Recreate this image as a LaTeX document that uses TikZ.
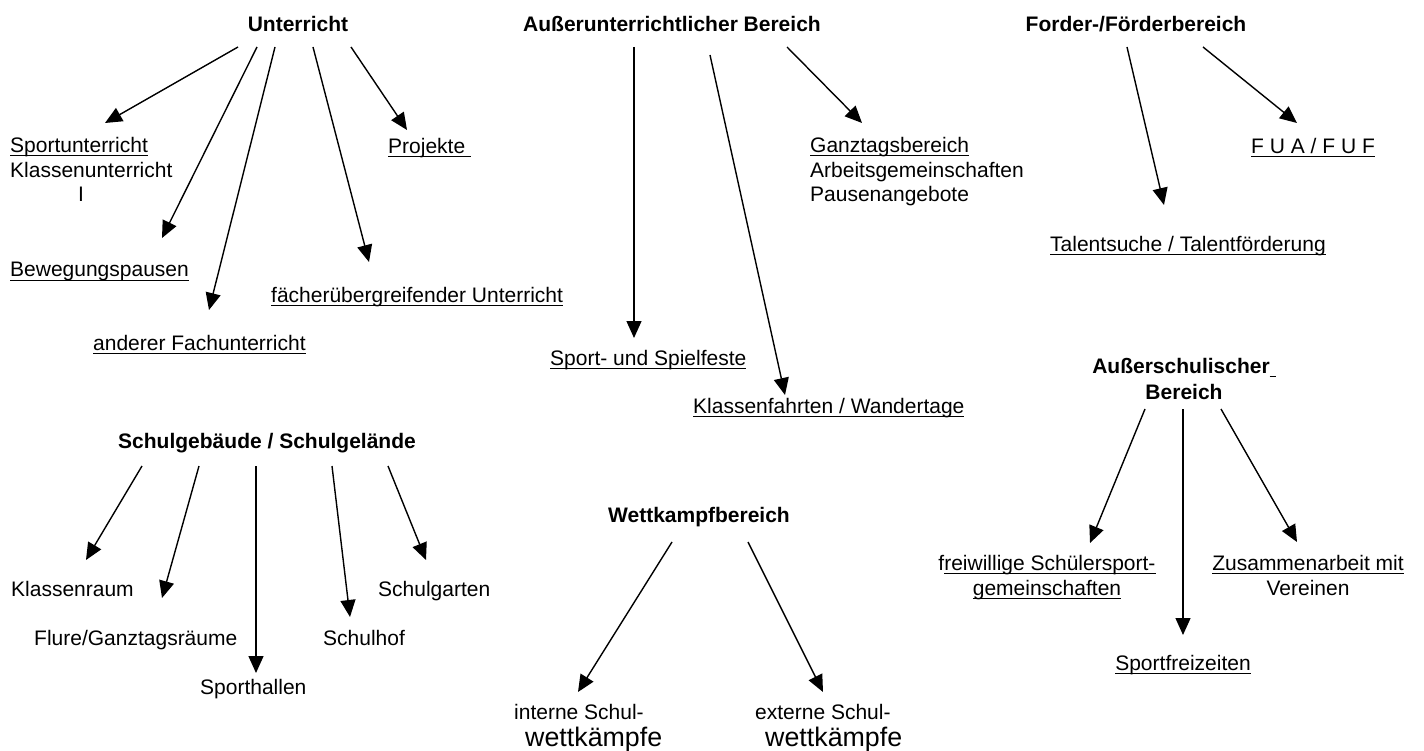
\documentclass[tikz,border=0pt]{standalone}
\usepackage{fontspec}
\setmainfont{Liberation Sans}
\usetikzlibrary{arrows.meta}
\newcommand\ulx[1]{\setbox0\hbox{#1}\rlap{\rule[-3.5pt]{\wd0}{1pt}}\box0}
\tikzset{
  lbl/.style={inner sep=0pt, anchor=base west, align=left, font=\fontsize{21}{24.5}\selectfont},
  clbl/.style={inner sep=0pt, anchor=base, align=center, font=\fontsize{21}{24.5}\selectfont},
  hd/.style={inner sep=0pt, anchor=base, align=center, font=\fontsize{21}{26}\selectfont\bfseries},
  arr/.style={line width=1.4pt, -{Triangle[length=17pt,width=15pt]}}
}
\begin{document}
\begin{tikzpicture}[x=1pt,y=-1pt]
\useasboundingbox (0,0) rectangle (1424,751);
% headings
\node[hd] (U) at (298,32) {Unterricht};
\node[hd] (A) at (672,32) {Außerunterrichtlicher Bereich};
\node[hd] (F) at (1136,32) {Forder-/Förderbereich};
\node[hd] (S) at (267,448) {Schulgebäude / Schulgelände};
\node[hd] (W) at (699,522) {Wettkampfbereich};
\node[hd] (E) at (1184,399) {Außerschulischer\ulx{\hspace{6pt}}\\Bereich};
% labels Unterricht
\node[lbl] (u1) at (10,202) {\ulx{Sportunterricht}\\Klassenunterricht\\\hspace{68pt}I};
\node[lbl] (u2) at (10,277) {\ulx{Bewegungspausen}};
\node[lbl] (u3) at (93,350) {\ulx{anderer Fachunterricht}};
\node[lbl] (u4) at (271,302) {\ulx{fächerübergreifender Unterricht}};
\node[lbl] (u5) at (388,154) {\ulx{Projekte\ }};
% labels Ausserunterrichtlich
\node[lbl] (a1) at (550,365) {\ulx{Sport- und Spielfeste}};
\node[lbl] (a2) at (693,413) {\ulx{Klassenfahrten / Wandertage}};
\node[lbl] (a3) at (810,202) {\ulx{Ganztagsbereich}\\Arbeitsgemeinschaften\\Pausenangebote};
% labels Forder
\node[lbl] (f1) at (1050,252) {\ulx{Talentsuche / Talentförderung}};
\node[lbl] (f2) at (1251,154) {\ulx{F U A / F U F}};
% labels Schulgebaeude
\node[lbl] (s1) at (11,596) {Klassenraum};
\node[lbl] (s2) at (34,645) {Flure/Ganztagsräume};
\node[lbl] (s3) at (200,694) {Sporthallen};
\node[lbl] (s4) at (323,645) {Schulhof};
\node[lbl] (s5) at (378,596) {Schulgarten};
% labels Wettkampf
\node[lbl] (w1) at (514,746) {interne Schul-\\[2.5pt]\hspace{11pt}{\fontsize{26.8}{27}\selectfont wettkämpfe}};
\node[lbl] (w2) at (755,746) {externe Schul-\\[2.5pt]\hspace{10pt}{\fontsize{26.8}{27}\selectfont wettkämpfe}};
% labels Ausserschulisch
\node[clbl] (e1) at (1047,595) {f\ulx{reiwillige Schülersport-}\\\ulx{gemeinschaften}};
\node[clbl] (e2) at (1183,670) {\ulx{Sportfreizeiten}};
\node[clbl] (e3) at (1308,595) {\ulx{Zusammenarbeit mit}\\Vereinen};
% arrow coordinates
\coordinate (U1) at (238,47); \coordinate (U1t) at (105,123);
\coordinate (U2) at (257,47); \coordinate (U2t) at (162,238);
\coordinate (U3) at (275,47); \coordinate (U3t) at (209,310);
\coordinate (U4) at (313,47); \coordinate (U4t) at (369,262);
\coordinate (U5) at (351,47); \coordinate (U5t) at (407,130);
\coordinate (A1) at (634,47); \coordinate (A1t) at (634,338);
\coordinate (A2) at (710,55); \coordinate (A2t) at (785,395);
\coordinate (A3) at (787,47); \coordinate (A3t) at (862,123);
\coordinate (F1) at (1127,47); \coordinate (F1t) at (1164,205);
\coordinate (F2) at (1203,47); \coordinate (F2t) at (1297,123);
\coordinate (S1) at (142,466); \coordinate (S1t) at (86,560);
\coordinate (S2) at (199,466); \coordinate (S2t) at (162,598);
\coordinate (S3) at (256,466); \coordinate (S3t) at (256,673);
\coordinate (S4) at (332,466); \coordinate (S4t) at (350,617);
\coordinate (S5) at (388,466); \coordinate (S5t) at (426,560);
\coordinate (W1) at (672,542); \coordinate (W1t) at (578,692);
\coordinate (W2) at (748,542); \coordinate (W2t) at (823,692);
\coordinate (E1) at (1145,409); \coordinate (E1t) at (1090,543);
\coordinate (E2) at (1183,409); \coordinate (E2t) at (1183,635);
\coordinate (E3) at (1221,409); \coordinate (E3t) at (1297,542);
\foreach \n in {U1,U2,U3,U4,U5,A1,A2,A3,F1,F2,S1,S2,S3,S4,S5,W1,W2,E1,E2,E3}
  \draw[arr] (\n) -- (\n t);
\end{tikzpicture}
\end{document}
